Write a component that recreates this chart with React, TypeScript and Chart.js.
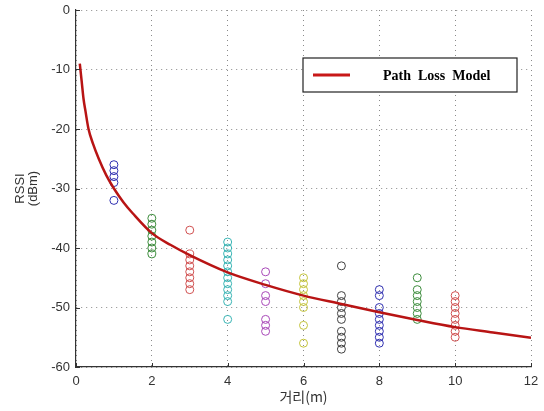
import React, { useEffect, useRef } from "react";
import { Chart, registerables } from "chart.js";

Chart.register(...registerables);

// Measured RSSI samples at each distance (m)
const distances = [1, 2, 3, 4, 5, 6, 7, 8, 9, 10];
const rssiAt1 = [-26, -27, -28, -29, -32];
const rssiAt2 = [-35, -36, -37, -38, -39, -40, -41];
const rssiAt3 = [-37, -41, -42, -43, -44, -45, -46, -47];
const rssiAt4 = [-39, -40, -41, -42, -43, -44, -45, -46, -47, -48, -49, -52];
const rssiAt5 = [-44, -46, -48, -49, -52, -53, -54];
const rssiAt6 = [-45, -46, -47, -48, -49, -50, -53, -56];
const rssiAt7 = [-43, -48, -49, -50, -51, -52, -54, -55, -56, -57];
const rssiAt8 = [-47, -48, -50, -51, -52, -53, -54, -55, -56];
const rssiAt9 = [-45, -47, -48, -49, -50, -51, -52];
const rssiAt10 = [-48, -49, -50, -51, -52, -53, -54, -55];
const rssiSamples = [rssiAt1, rssiAt2, rssiAt3, rssiAt4, rssiAt5, rssiAt6, rssiAt7, rssiAt8, rssiAt9, rssiAt10];

// Path loss model curve
const modelDist = [0.1, 0.15, 0.2, 0.25, 0.33, 0.45, 0.6, 0.8, 1, 1.25, 1.5, 2, 2.5, 3, 4, 5, 6, 7, 8, 9, 10, 11, 12];
const modelRssi = [-9, -12, -15, -17, -20, -22.5, -25, -27.8, -30, -32.3, -34.2, -37.5, -39.5, -41.2, -44.1, -46.2, -48, -49.4, -50.8, -52.1, -53.3, -54.2, -55.1];

const xTicks = [0, 2, 4, 6, 8, 10, 12];
const yTicks = [0, -10, -20, -30, -40, -50, -60];

const seriesColors = ["#2f2fb0", "#3c8c3c", "#d05050", "#38b4b4", "#a848b8", "#c4c43c", "#404040"];

const legendPlugin = {
  id: "boxLegend",
  afterDraw(chart: any) {
    const { ctx, chartArea } = chart;
    const x0 = chartArea.left + 227;
    const y0 = chartArea.top + 48;
    const w = 214;
    const h = 34;
    ctx.save();
    ctx.fillStyle = "#ffffff";
    ctx.fillRect(x0, y0, w, h);
    ctx.strokeStyle = "#222";
    ctx.lineWidth = 1.2;
    ctx.strokeRect(x0, y0, w, h);
    ctx.strokeStyle = "#c81818";
    ctx.lineWidth = 3;
    ctx.beginPath();
    ctx.moveTo(x0 + 10, y0 + h / 2);
    ctx.lineTo(x0 + 47, y0 + h / 2);
    ctx.stroke();
    ctx.fillStyle = "#000";
    ctx.font = "bold 14px 'Liberation Serif', serif";
    ctx.textAlign = "left";
    ctx.textBaseline = "middle";
    ctx.fillText(chart.data.datasets[0].label, x0 + 80, y0 + h / 2 + 1);
    ctx.restore();
  },
};

const innerTicksPlugin = {
  id: "innerTicks",
  afterDraw(chart: any) {
    const { ctx, chartArea, scales } = chart;
    ctx.save();
    ctx.strokeStyle = "#333";
    ctx.lineWidth = 1;
    ctx.beginPath();
    scales.x.ticks.forEach((t: any) => {
      const px = Math.round(scales.x.getPixelForValue(t.value)) + 0.5;
      ctx.moveTo(px, chartArea.bottom);
      ctx.lineTo(px, chartArea.bottom - 4);
    });
    scales.y.ticks.forEach((t: any) => {
      const py = Math.round(scales.y.getPixelForValue(t.value)) + 0.5;
      ctx.moveTo(chartArea.left, py);
      ctx.lineTo(chartArea.left + 4, py);
    });
    ctx.stroke();
    ctx.restore();
  },
};

export default function App() {
  const ref = useRef<HTMLCanvasElement>(null);
  useEffect(() => {
    document.body.style.margin = "0";
    const scatterSets = rssiSamples.map((vals, i) => ({
      type: "scatter" as const,
      label: `${distances[i]} m`,
      data: vals.map((v) => ({ x: distances[i], y: v })),
      borderColor: seriesColors[i % seriesColors.length],
      backgroundColor: "rgba(0,0,0,0)",
      pointRadius: 4,
      pointBorderWidth: 1,
      pointStyle: "circle",
      showLine: false,
    }));
    const chart = new Chart(ref.current!, {
      type: "scatter",
      data: {
        datasets: [
          {
            type: "line",
            label: "Path  Loss  Model",
            data: modelDist.map((d, i) => ({ x: d, y: modelRssi[i] })),
            borderColor: "#b81414",
            borderWidth: 2.5,
            pointRadius: 0,
            showLine: true,
            cubicInterpolationMode: "monotone",
            fill: false,
            order: 0,
          } as any,
          ...scatterSets,
        ],
      },
      options: {
        animation: false,
        responsive: false,
        maintainAspectRatio: false,
        layout: { padding: { top: 10, right: 13, left: 0, bottom: 0 } },
        plugins: { legend: { display: false }, tooltip: { enabled: false } },
        scales: {
          x: {
            type: "linear",
            min: 0,
            max: 12,
            afterBuildTicks: (s: any) => { s.ticks = xTicks.map((v) => ({ value: v })); },
            ticks: { color: "#333", font: { family: "'Liberation Sans', Arial, sans-serif", size: 13 }, padding: 7 },
            grid: { color: "#8a8a8a", drawTicks: false, lineWidth: 1 },
            border: { display: true, color: "#333", width: 1.2, dash: [1, 4] },
            title: {
              display: true,
              text: "거리(m)",
              color: "#333",
              font: { family: "'Noto Sans CJK KR', sans-serif", size: 14 },
              padding: { top: 0, bottom: 6 },
            },
            afterFit: (s: any) => { s.height = 44; s.paddingLeft = 0; s.paddingRight = 0; },
          },
          y: {
            type: "linear",
            min: -60,
            max: 0,
            afterBuildTicks: (s: any) => { s.ticks = yTicks.map((v) => ({ value: v })); },
            ticks: { color: "#333", font: { family: "'Liberation Sans', Arial, sans-serif", size: 13 }, padding: 6 },
            grid: { color: "#8a8a8a", drawTicks: false, lineWidth: 1 },
            border: { display: true, color: "#333", width: 1.2, dash: [1, 4] },
            title: {
              display: true,
              text: ["RSSI", "(dBm)"],
              color: "#333",
              font: { family: "'Liberation Sans', Arial, sans-serif", size: 13, lineHeight: 1.0 },
              padding: { top: 14, bottom: 0 },
            },
            afterFit: (s: any) => { s.width = 76; s.paddingTop = 0; s.paddingBottom = 0; },
          },
        },
      },
      plugins: [innerTicksPlugin, legendPlugin],
    });
    return () => chart.destroy();
  }, []);
  return (
    <div style={{ position: "absolute", left: 0, top: 0, width: 544, height: 411, background: "#fff" }}>
      <canvas ref={ref} width={544} height={411} style={{ display: "block" }} />
    </div>
  );
}
